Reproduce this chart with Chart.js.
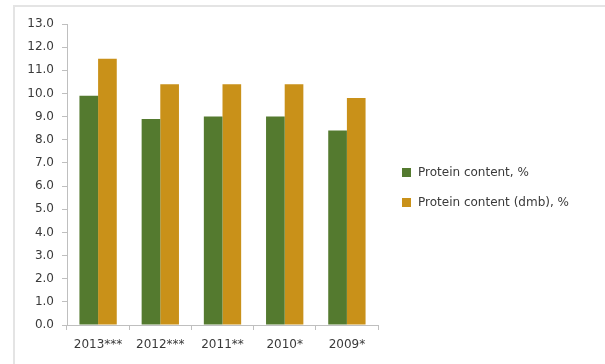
<!DOCTYPE html>
<html>
<head>
<meta charset="utf-8">
<script src="https://cdn.jsdelivr.net/npm/chart.js@4/dist/chart.umd.min.js"></script>
<style>
  html, body { margin: 0; padding: 0; background: #fff; }
  #wrap { position: relative; width: 605px; height: 364px; overflow: hidden; }
  #frame { position: absolute; left: 13px; top: 5px; width: 600px; height: 400px;
           border-top: 2px solid #e4e4e4; border-left: 2px solid #e4e4e4; }
  canvas { position: absolute; left: 0; top: 0; }
  .legend { position: absolute; left: 402px; top: 164px; font: 12px "DejaVu Sans", sans-serif; color: #3a3a3a; }
  .legend div { display: flex; align-items: center; height: 16px; margin-bottom: 14px; }
  .legend span { display: inline-block; width: 9px; height: 9px; margin-right: 7px; }
</style>
</head>
<body>
<div id="wrap">
  <div id="frame"></div>
  <canvas id="grafica" width="605" height="364"></canvas>
  <div class="legend" id="leyenda"></div>
</div>
<script>
// ── Datos ─────────────────────────────────────────────────────────────────────
const categorias   = ['2013***', '2012***', '2011**', '2010*', '2009*'];
const proteina     = [9.9, 8.9, 9.0, 9.0, 8.4];
const proteinaDmb  = [11.5, 10.4, 10.4, 10.4, 9.8];
const nombres      = ['Protein content, %', 'Protein content (dmb), %'];
const colores      = ['#547a2f', '#c99119'];

const fuente = { family: '"DejaVu Sans", sans-serif', size: 12 };
const gris   = '#bfbfbf';

// ── Leyenda en HTML ───────────────────────────────────────────────────────────
const leyenda = document.getElementById('leyenda');
nombres.forEach((n, i) => {
    const row = document.createElement('div');
    const sq  = document.createElement('span');
    sq.style.background = colores[i];
    row.appendChild(sq);
    row.appendChild(document.createTextNode(n));
    leyenda.appendChild(row);
});

// ── Gráfica ───────────────────────────────────────────────────────────────────
new Chart(document.getElementById('grafica'), {
    type: 'bar',
    data: {
        labels: categorias,
        datasets: [
            { label: nombres[0], data: proteina,    backgroundColor: colores[0] },
            { label: nombres[1], data: proteinaDmb, backgroundColor: colores[1] },
        ]
    },
    options: {
        responsive: false,
        animation: false,
        layout: { padding: { left: 14, right: 227, top: 24, bottom: 0 } },
        datasets: { bar: { categoryPercentage: 0.6, barPercentage: 1.0 } },
        plugins: { legend: { display: false }, tooltip: { enabled: false } },
        scales: {
            x: {
                afterFit: s => { s.height = 39; },
                border: { display: true, color: gris },
                grid: { display: true, drawOnChartArea: false, drawTicks: true, tickLength: 5, color: gris, offset: true },
                ticks: { font: fuente, color: '#3a3a3a', padding: 8, maxRotation: 0, autoSkip: false }
            },
            y: {
                min: 0,
                max: 13,
                afterFit: s => { s.width = 53; },
                border: { display: true, color: gris },
                grid: { display: true, drawOnChartArea: false, drawTicks: true, tickLength: 5, color: gris },
                ticks: {
                    stepSize: 1,
                    font: fuente,
                    color: '#3a3a3a',
                    padding: 8,
                    callback: v => v.toFixed(1)
                }
            }
        }
    }
});
</script>
</body>
</html>
